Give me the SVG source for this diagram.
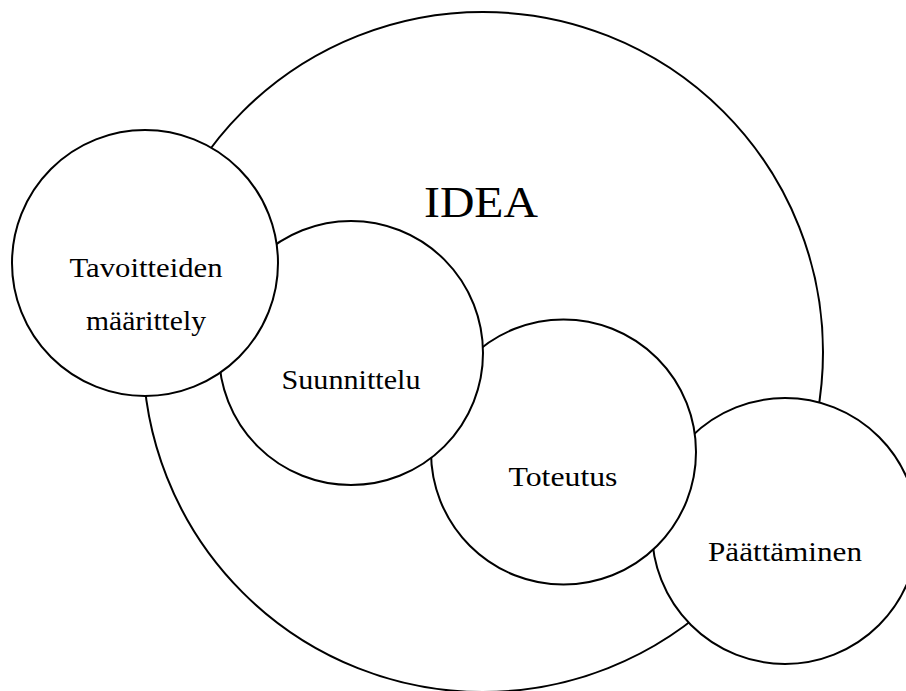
<svg xmlns="http://www.w3.org/2000/svg" width="906" height="691" viewBox="0 0 906 691">
<style>
circle{fill:#fff;stroke:#000;stroke-width:2}
text{font-family:"Liberation Serif","DejaVu Serif",serif;fill:#000;text-anchor:middle}
.l{font-size:27px}
</style>
<rect width="906" height="691" fill="#fff"/>
<g id="idea"><circle cx="483" cy="352" r="340"/><text x="481" y="217" font-size="45" textLength="114" lengthAdjust="spacingAndGlyphs">IDEA</text></g>
<g id="paattaminen"><circle cx="785" cy="531" r="133"/><text class="l" x="785" y="561" textLength="154" lengthAdjust="spacingAndGlyphs">Päättäminen</text></g>
<g id="toteutus"><circle cx="563.5" cy="452" r="132.5"/><text class="l" x="563" y="486" textLength="109" lengthAdjust="spacingAndGlyphs">Toteutus</text></g>
<g id="suunnittelu"><circle cx="351" cy="353" r="132"/><text class="l" x="351" y="389" textLength="139" lengthAdjust="spacingAndGlyphs">Suunnittelu</text></g>
<g id="tavoitteiden"><circle cx="145" cy="263" r="133"/><text class="l" x="146" y="277" textLength="153" lengthAdjust="spacingAndGlyphs">Tavoitteiden</text><text class="l" x="146" y="330" textLength="120" lengthAdjust="spacingAndGlyphs">määrittely</text></g>
<g id="connectors"/>
</svg>
